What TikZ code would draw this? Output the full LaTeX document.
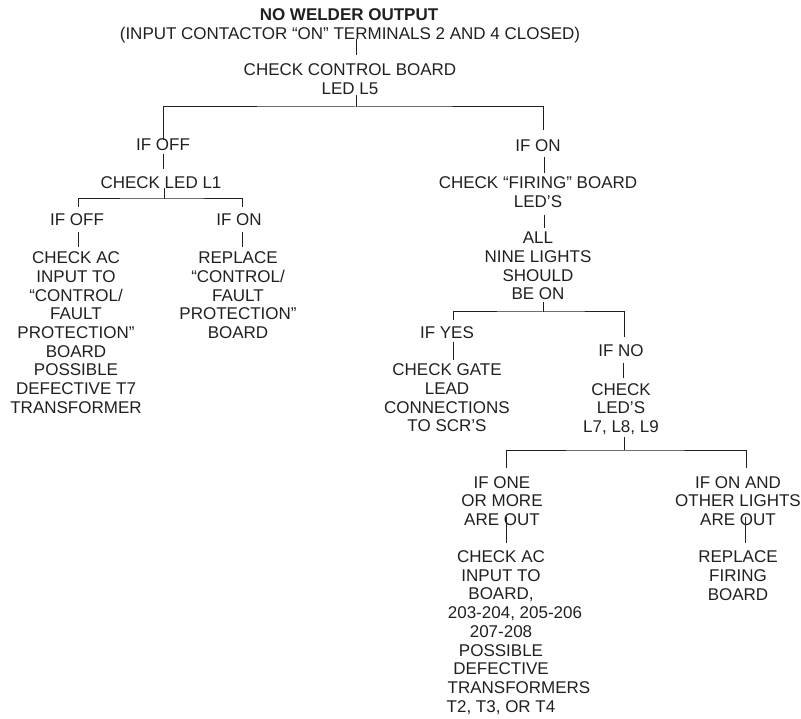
\documentclass[tikz,border=0pt]{standalone}
\usepackage{fontspec}
\setmainfont{Liberation Sans}
\usetikzlibrary{calc}
\definecolor{ink}{RGB}{35,31,32}
\begin{document}
\begin{tikzpicture}[x=1pt,y=-1pt,
  txt/.style={inner sep=0pt, align=center, text=ink, font=\fontsize{17}{18.7}\selectfont},
  wire/.style={draw=ink, line width=1pt}]
\useasboundingbox (0,0) rectangle (801,719);

\node[txt,font=\fontsize{17}{18.7}\selectfont\bfseries] (title) at (349,15) {NO WELDER OUTPUT};
\node[txt] (sub) at (350,34.7) {(INPUT CONTACTOR “ON” TERMINALS 2 AND 4 CLOSED)};
\node[txt] (ccb) at (350,79.5) {CHECK CONTROL BOARD\\LED L5};
\node[txt] (ifoff) at (163,145) {IF OFF};
\node[txt] (cl1) at (161,183) {CHECK LED L1};
\node[txt] (ifoffb) at (77,220) {IF OFF};
\node[txt] (ifonb) at (239,220) {IF ON};
\node[txt] (checkac) at (76,332.7) {CHECK AC\\INPUT TO\\“CONTROL/\\FAULT\\PROTECTION”\\BOARD\\POSSIBLE\\DEFECTIVE T7\\TRANSFORMER};
\node[txt] (replace) at (238,295.4) {REPLACE\\“CONTROL/\\FAULT\\PROTECTION”\\BOARD};
\node[txt] (ifon) at (538,146) {IF ON};
\node[txt] (firing) at (538,192.4) {CHECK “FIRING” BOARD\\LED’S};
\node[txt] (all) at (538,266) {ALL\\NINE LIGHTS\\SHOULD\\BE ON};
\node[txt] (ifyes) at (447,333) {IF YES};
\node[txt] (gate) at (447,398) {CHECK GATE\\LEAD\\CONNECTIONS\\TO SCR’S};
\node[txt] (ifno) at (621,351) {IF NO};
\node[txt] (leds) at (621,409) {CHECK\\LED’S\\L7, L8, L9};
\node[txt] (ifone) at (502,501) {IF ONE\\OR MORE\\ARE OUT};
\node[txt] (ifonand) at (738,501) {IF ON AND\\OTHER LIGHTS\\ARE OUT};
\node[txt] (acboard) at (501,632.5) {CHECK AC\\INPUT TO\\BOARD,\\\hspace*{28pt}203-204, 205-206\\207-208\\POSSIBLE\\DEFECTIVE\\\hspace*{36pt}TRANSFORMERS\\T2, T3, OR T4};
\node[txt] (repfiring) at (738,575.7) {REPLACE\\FIRING\\BOARD};

% connectors
\draw[wire] ($(sub.center)+(6,4.3)$) -- ($(ccb.center)+(6,-24.5)$);
\draw[wire] ($(ccb.center)+(6,15.5)$) -- ++(0,12) coordinate (b1);
\draw[wire] ($(ifoff.center)+(0,-5)$) |- (b1) -| ($(ifon.center)+(5,-16)$);
\draw[wire] ($(ifoff.center)+(0,9)$) -- ($(cl1.center)+(2,-14)$);
\draw[wire] ($(cl1.center)+(3,5)$) -- ++(0,11) coordinate (b2);
\draw[wire] ($(ifoffb.center)+(1,-13)$) |- (b2) -| ($(ifonb.center)+(3,-13)$);
\draw[wire] ($(ifoffb.center)+(1,12)$) -- ($(checkac.center)+(2,-85.7)$);
\draw[wire] ($(ifonb.center)+(3,12)$) -- ($(replace.center)+(4,-48.4)$);
\draw[wire] ($(ifon.center)+(6,11)$) -- ($(firing.center)+(6,-19.4)$);
\draw[wire] ($(firing.center)+(6,22.6)$) -- ($(all.center)+(6,-38)$);
\draw[wire] ($(all.center)+(5,36)$) -- ++(0,10) coordinate (b3);
\draw[wire] ($(ifyes.center)+(6,-13)$) |- (b3) -| ($(ifno.center)+(3,-14)$);
\draw[wire] ($(ifyes.center)+(6,9)$) -- ($(gate.center)+(6,-38)$);
\draw[wire] ($(ifno.center)+(2,12)$) -- ($(leds.center)+(2,-31)$);
\draw[wire] ($(leds.center)+(3,28)$) -- ++(0,13) coordinate (b4);
\draw[wire] ($(ifone.center)+(4,-33)$) |- (b4) -| ($(ifonand.center)+(8,-33)$);
\draw[wire] ($(ifone.center)+(4,16)$) -- ($(acboard.center)+(5,-89.5)$);
\draw[wire] ($(ifonand.center)+(7,16)$) -- ($(repfiring.center)+(7,-32.7)$);
\end{tikzpicture}
\end{document}
